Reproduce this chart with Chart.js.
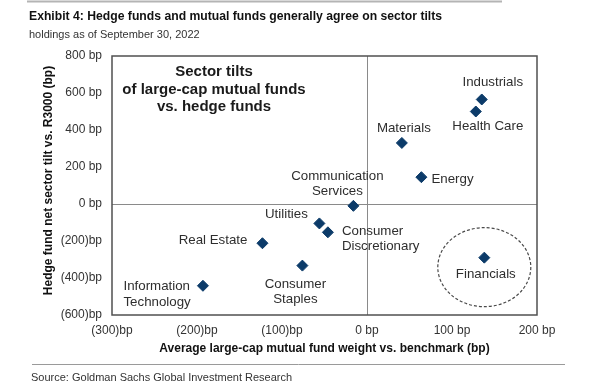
<!DOCTYPE html>
<html><head><meta charset="utf-8">
<script src="https://cdn.jsdelivr.net/npm/chart.js@4.4.1/dist/chart.umd.min.js"></script>
<style>html,body{margin:0;padding:0;background:#fff;}canvas{display:block;}</style>
</head><body>
<canvas id="c" width="600" height="390"></canvas>
<script>
// ---- data ----
const sectors = [['Industrials'], ['Health Care'], ['Materials'], ['Energy'], ['Communication', 'Services'], ['Utilities'], ['Consumer', 'Discretionary'], ['Real Estate'], ['Consumer', 'Staples'], ['Information', 'Technology'], ['Financials']];
const mutualFundWeight = [135, 128, 41, 64, -16, -56, -46, -123, -76, -193, 138];
const hedgeFundTilt = [565, 500, 330, 145, -10, -105, -153, -212, -333, -442, -290];
const xTickValues = [-300, -200, -100, 0, 100, 200];
const xTickLabels = ['(300)bp', '(200)bp', '(100)bp', '0 bp', '100 bp', '200 bp'];
const yTickValues = [-600, -400, -200, 0, 200, 400, 600, 800];
const yTickLabels = ['(600)bp', '(400)bp', '(200)bp', '0 bp', '200 bp', '400 bp', '600 bp', '800 bp'];
const highlightedSector = 'Financials';

// ---- styling ----
const FONT = '"Liberation Sans", Arial, Helvetica, sans-serif';
const NAVY = '#0c3b69';
const labelPlacement = [
  {dx: 11, dy: -17, align: 'center'},
  {dx: 12, dy: 15, align: 'center'},
  {dx: 2, dy: -15, align: 'center'},
  {dx: 10, dy: 2, align: 'left'},
  {dx: -16, dy: -30, align: 'center'},
  {dx: -33, dy: -9, align: 'center'},
  {dx: 14, dy: -1, align: 'left'},
  {dx: -15, dy: -3, align: 'right'},
  {dx: -7, dy: 18.5, align: 'center'},
  {dx: -79.5, dy: 1, align: 'left'},
  {dx: 1.5, dy: 16.5, align: 'center'}
];
const ellipseStyle = {dy: 9.5, rx: 46.5, ry: 39.5};

function txt(ctx, s, x, y, size, weight, color, align) {
  ctx.font = (weight || 'normal') + ' ' + size + 'px ' + FONT;
  ctx.fillStyle = color;
  ctx.textAlign = align || 'left';
  ctx.textBaseline = 'middle';
  ctx.fillText(s, x, y);
}

const decor = {
  id: 'decor',
  beforeDatasetsDraw(chart) {
    const {ctx, chartArea: a, scales: {x, y}} = chart;
    ctx.save();
    // zero lines
    ctx.strokeStyle = '#8a8a8a';
    ctx.lineWidth = 1;
    ctx.beginPath();
    const x0 = Math.round(x.getPixelForValue(0)) + 0.5;
    const y0 = Math.round(y.getPixelForValue(0)) + 0.5;
    ctx.moveTo(x0, a.top); ctx.lineTo(x0, a.bottom);
    ctx.moveTo(a.left, y0); ctx.lineTo(a.right, y0);
    ctx.stroke();
    // plot frame
    ctx.strokeStyle = '#505050';
    ctx.lineWidth = 1.5;
    ctx.strokeRect(a.left, a.top, a.right - a.left, a.bottom - a.top);
    // highlight ellipse around Financials
    const i = sectors.findIndex(s => s.join(' ') === highlightedSector);
    const px = x.getPixelForValue(mutualFundWeight[i]);
    const py = y.getPixelForValue(hedgeFundTilt[i]);
    ctx.setLineDash([3, 2]);
    ctx.strokeStyle = '#4a4a4a';
    ctx.lineWidth = 1.2;
    ctx.beginPath();
    ctx.ellipse(px, py + ellipseStyle.dy, ellipseStyle.rx, ellipseStyle.ry, 0, 0, Math.PI * 2);
    ctx.stroke();
    ctx.restore();
  },
  afterDatasetsDraw(chart) {
    const {ctx, chartArea: a, scales: {x, y}} = chart;
    ctx.save();
    // point labels
    sectors.forEach((lines, i) => {
      const p = labelPlacement[i];
      const px = x.getPixelForValue(mutualFundWeight[i]);
      const py = y.getPixelForValue(hedgeFundTilt[i]);
      lines.forEach((ln, k) => txt(ctx, ln, px + p.dx, py + p.dy + k * 15.5, 13.3, 'normal', '#2e2e2e', p.align));
    });
    // inner annotation
    const ann = ['Sector tilts', 'of large-cap mutual funds', 'vs. hedge funds'];
    ann.forEach((ln, k) => txt(ctx, ln, 214, 72 + k * 17.5, 15, 'bold', '#1a1a1a', 'center'));
    // axis titles
    txt(ctx, 'Average large-cap mutual fund weight vs. benchmark (bp)', (a.left + a.right) / 2, 348.5, 12, 'bold', '#111', 'center');
    ctx.save();
    ctx.translate(49, 180.5);
    ctx.rotate(-Math.PI / 2);
    txt(ctx, 'Hedge fund net sector tilt vs. R3000 (bp)', 0, 0, 12, 'bold', '#111', 'center');
    ctx.restore();
    // header & footer
    ctx.strokeStyle = '#b4b4b4';
    ctx.lineWidth = 2;
    ctx.beginPath(); ctx.moveTo(27, 1.5); ctx.lineTo(502, 1.5); ctx.stroke();
    txt(ctx, 'Exhibit 4: Hedge funds and mutual funds generally agree on sector tilts', 29, 16.5, 12.2, 'bold', '#111', 'left');
    txt(ctx, 'holdings as of September 30, 2022', 29, 35, 11, 'normal', '#333', 'left');
    ctx.strokeStyle = '#9a9a9a';
    ctx.lineWidth = 1;
    ctx.beginPath(); ctx.moveTo(32, 364.5); ctx.lineTo(565, 364.5); ctx.stroke();
    txt(ctx, 'Source: Goldman Sachs Global Investment Research', 31, 377.5, 11, 'normal', '#333', 'left');
    ctx.restore();
  }
};

new Chart(document.getElementById('c'), {
  type: 'scatter',
  data: {
    labels: sectors.map(s => s.join(' ')),
    datasets: [{
      label: 'Sector tilts',
      data: mutualFundWeight.map((v, i) => ({x: v, y: hedgeFundTilt[i]})),
      pointStyle: 'rectRot',
      pointRadius: 5.5,
      pointHoverRadius: 5.5,
      backgroundColor: NAVY,
      borderColor: NAVY,
      borderWidth: 1
    }]
  },
  options: {
    responsive: false,
    devicePixelRatio: 1,
    animation: false,
    events: [],
    layout: {padding: {left: 0, top: 56, right: 63, bottom: 0}},
    plugins: {legend: {display: false}, tooltip: {enabled: false}, title: {display: false}},
    scales: {
      x: {
        type: 'linear',
        min: -300, max: 200,
        afterFit: s => { s.height = 75; },
        afterBuildTicks: s => { s.ticks = xTickValues.map(v => ({value: v})); },
        grid: {display: false, drawTicks: false},
        border: {display: false},
        ticks: {
          padding: 8,
          color: '#333',
          font: {family: FONT, size: 12},
          maxRotation: 0,
          autoSkip: false,
          callback: v => xTickLabels[xTickValues.indexOf(v)]
        }
      },
      y: {
        type: 'linear',
        min: -600, max: 800,
        afterFit: s => { s.width = 112; },
        afterBuildTicks: s => { s.ticks = yTickValues.map(v => ({value: v})); },
        grid: {display: false, drawTicks: false},
        border: {display: false},
        ticks: {
          padding: 10,
          color: '#333',
          font: {family: FONT, size: 12},
          autoSkip: false,
          callback: v => yTickLabels[yTickValues.indexOf(v)]
        }
      }
    }
  },
  plugins: [decor]
});
</script>
</body></html>
